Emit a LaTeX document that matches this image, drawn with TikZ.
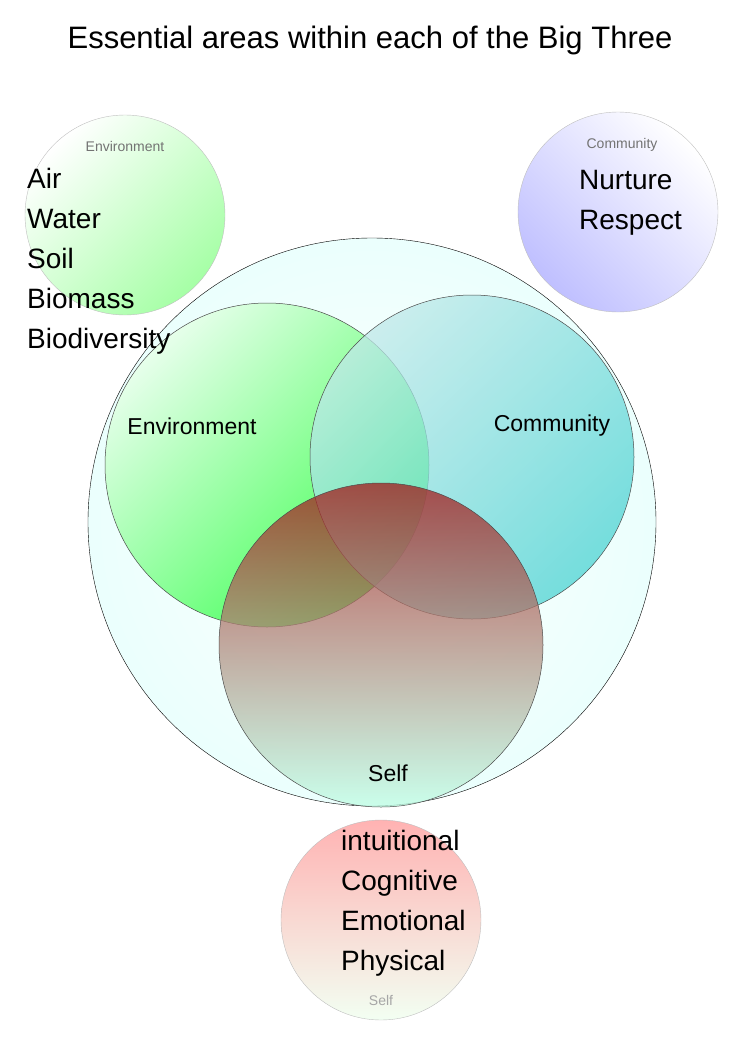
\documentclass[tikz,border=0pt]{standalone}
\usepackage{fontspec}
\setmainfont{Liberation Sans}
\usetikzlibrary{positioning}
\tikzset{
  ring/.style={circle, draw=black!70, line width=0.5pt, inner sep=0pt},
  smallring/.style={circle, draw=black!25, line width=0.4pt, inner sep=0pt, minimum size=200pt},
  bigring/.style={ring, minimum size=324pt, fill opacity=0.75},
  tag/.style={font=\fontsize{23}{26}\selectfont},
  greytag/.style={text=black!55, font=\fontsize{14}{16}\selectfont},
  listtext/.style={align=left, anchor=north west, inner sep=0pt, font=\fontsize{28}{40}\selectfont}
}
\begin{document}
\begin{tikzpicture}[x=1pt,y=-1pt]
    % Page frame
    \useasboundingbox (0,0) rectangle (744,1052);

    % Title
    \node (title) at (370,40) {\fontsize{31}{36}\selectfont Essential areas within each of the Big Three};

    % Small circles for the lists
    \node[smallring, left color=white, right color=green!35, shading angle=45] (envsmall) at (125,215) {};
    \node[smallring, left color=blue!25, right color=white, shading angle=135] (comsmall) at (618,212) {};
    \node[smallring, top color=red!30, bottom color=green!5] (selfsmall) at (381,920) {};

    \node[greytag] (envtag) at (125,146) {Environment};
    \node[greytag] (comtag) at (622,145) {Community};
    \node[greytag, text=black!35] (selftag) at (381,1000) {Self};

    % The big circle
    \node[circle, draw, inner sep=0pt, minimum size=568pt, inner color=white, outer color=green!12!cyan!8] (whole) at (372,522) {};

    % The three overlapping circles
    \node[bigring, left color=green!10!white, right color=green!90!cyan, shading angle=45] (env) at (267,465) {};
    \node[bigring, left color=cyan!30!teal!25, right color=teal!50!cyan!70, shading angle=45] (com) at (472,457) {};
    \node[bigring, top color=red!60!black!90, bottom color=green!40!cyan!25] (self) at (381,645) {};

    % Labels of the three areas
    \node[tag] (envlabel) at (192,426) {Environment};
    \node[tag] (comlabel) at (552,426) {Community};
    \node[tag] (selflabel) at (388,773) {Self};

    % Lists
    \node[listtext] (envlist) at (27,168) {Air\\Water\\Soil\\Biomass\\Biodiversity};
    \node[listtext] (comlist) at (579,170) {Nurture\\Respect};
    \node[listtext] (selflist) at (341,830) {intuitional\\Cognitive\\Emotional\\Physical};
\end{tikzpicture}
\end{document}
